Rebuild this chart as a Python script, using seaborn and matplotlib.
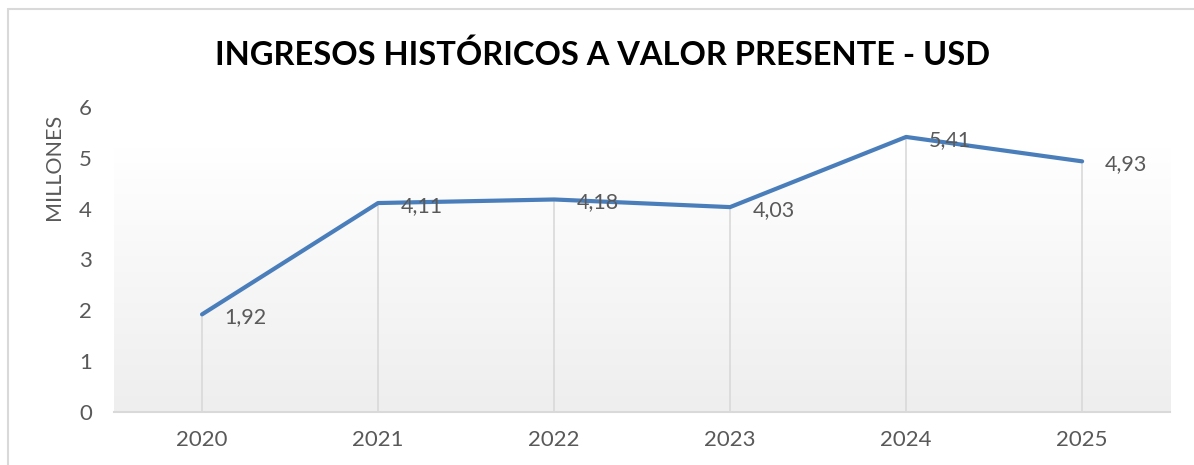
import numpy as np
import pandas as pd
import matplotlib
matplotlib.use("Agg")
import matplotlib.pyplot as plt
import matplotlib.colors as colors
from matplotlib.lines import Line2D
import seaborn as sns

years = ["2020", "2021", "2022", "2023", "2024", "2025"]
ingresos = [1.92, 4.11, 4.18, 4.03, 5.41, 4.93]
y_ticks = [0, 1, 2, 3, 4, 5, 6]

title = "INGRESOS HISTÓRICOS A VALOR PRESENTE - USD"
y_label = "MILLONES"

df = pd.DataFrame({"anio": years, "ingresos": ingresos})

sns.set_theme(style="white")
plt.rcParams['font.family'] = ['Lato', 'DejaVu Sans']

grey_txt = '#595959'
grey_line = '#d9d9d9'
blue = '#4A7EBB'

fig = plt.figure(figsize=(11.94, 4.65), dpi=100)
ax = fig.add_axes([0.0955, 0.114, 0.8845, 0.656])

# soft gradient behind the plot area (white top -> light grey bottom)
grad_cmap = colors.LinearSegmentedColormap.from_list('bg', ['#eeeeee', '#ffffff'])
grad = np.linspace(0, 1, 256).reshape(-1, 1)
ax.imshow(grad, extent=(-0.5, 5.5, 0, 5.2), origin='lower', aspect='auto',
          cmap=grad_cmap, zorder=0)

# drop lines from each point down to the axis
ax.vlines(range(len(years)), 0, ingresos, color=grey_line, lw=1.2, zorder=1)

sns.lineplot(data=df, x="anio", y="ingresos", color=blue, lw=3, sort=False,
             ax=ax, zorder=3)

for i, v in enumerate(ingresos):
    ax.annotate(f"{v:.2f}".replace(".", ","), (i, v), xytext=(16, -2),
                textcoords='offset points', ha='left', va='center',
                fontsize=15.5, color=grey_txt, zorder=4)

ax.set_xlim(-0.5, 5.5)
ax.set_ylim(0, 6)
ax.set_yticks(y_ticks)
ax.set_facecolor('none')

for s in ['left', 'top', 'right']:
    ax.spines[s].set_visible(False)
ax.spines['bottom'].set_color(grey_line)
ax.spines['bottom'].set_linewidth(1.5)

ax.tick_params(axis='both', length=0, labelsize=16, labelcolor=grey_txt)
ax.tick_params(axis='x', pad=13)
ax.tick_params(axis='y', pad=16)

ax.set_xlabel("")
ax.set_ylabel(y_label, fontsize=15.5, color=grey_txt)
ax.yaxis.set_label_coords(-0.047, 0.803)

fig.text(0.505, 1 - 55 / 465, title, ha='center', va='center',
         fontsize=23.5, fontweight='bold', color='black')

# chart frame (only top and left edges are visible in the crop)
fx, fy = 8 / 1194, 1 - 9 / 465
fig.add_artist(Line2D([fx, fx], [0, fy], color=grey_line, lw=1.5))
fig.add_artist(Line2D([fx, 1], [fy, fy], color=grey_line, lw=1.5))

fig.savefig('out.png', dpi=100)
